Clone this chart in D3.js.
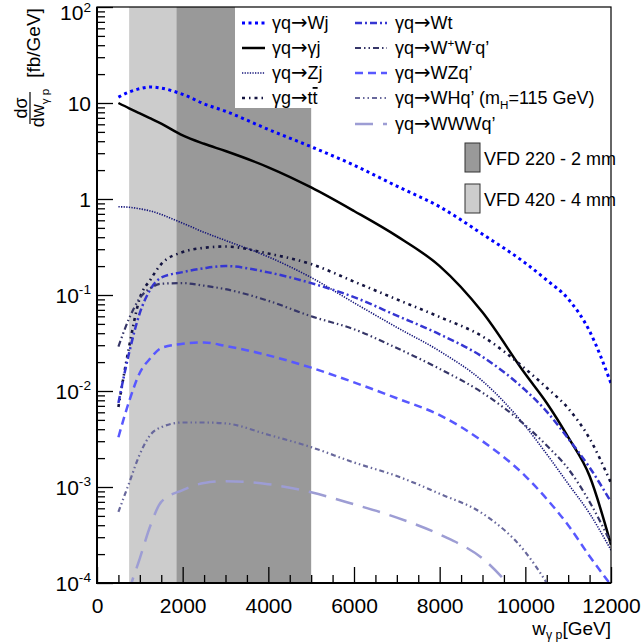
<!DOCTYPE html>
<html>
<head>
<meta charset="utf-8">
<script src="https://cdn.jsdelivr.net/npm/d3@7"></script>
<style>
  html, body { margin: 0; padding: 0; background: #fff; }
  svg { display: block; font-family: "Liberation Sans", Arial, sans-serif; }
</style>
</head>
<body>
<div id="root"></div>
<script>
// w_gamma p grid (GeV) shared by all curves
const wGrid = [500, 750, 1000, 1250, 1500, 2000, 2500, 3000, 4000, 5000, 6000, 7000, 8000, 9000, 10000, 10500, 11000, 11500, 12000]

// dsigma/dw [fb/GeV]
const sWj  = [11.5, 13.0, 14.1, 14.7, 14.3, 12.3, 9.8, 8.2, 5.3, 3.5, 2.25, 1.36, 0.83, 0.43, 0.215, 0.143, 0.091, 0.042, 0.012]
const sGj  = [10.0, 8.8, 7.8, 6.9, 6.1, 4.6, 3.76, 3.16, 2.14, 1.32, 0.75, 0.41, 0.2, 0.066, 0.015, 0.0075, 0.0033, 0.0013, 0.00025]
const sZj  = [0.83, 0.82, 0.79, 0.75, 0.69, 0.56, 0.45, 0.37, 0.25, 0.152, 0.083, 0.046, 0.026, 0.0127, 0.0043, 0.0022, 0.00108, 0.00053, 0.00022]
const sTt  = [0.0068, 0.029, 0.093, 0.145, 0.21, 0.28, 0.31, 0.32, 0.27, 0.21, 0.138, 0.09, 0.059, 0.037, 0.017, 0.0108, 0.0066, 0.0032, 0.0011]
const sWt  = [0.0075, 0.025, 0.065, 0.115, 0.152, 0.173, 0.19, 0.20, 0.172, 0.133, 0.095, 0.061, 0.039, 0.0227, 0.0102, 0.0061, 0.0032, 0.0016, 0.0007]
const sWW  = [0.029, 0.057, 0.093, 0.118, 0.131, 0.133, 0.125, 0.115, 0.087, 0.06, 0.044, 0.028, 0.017, 0.0096, 0.0044, 0.0027, 0.00155, 0.0007, 0.00026]
const sWZ  = [0.0033, 0.0078, 0.0155, 0.022, 0.028, 0.031, 0.032, 0.0295, 0.0235, 0.0175, 0.0123, 0.0084, 0.0056, 0.003, 0.0013, 0.00075, 0.0004, 0.00019, 0.000095]
const sWH  = [0.00055, 0.0011, 0.0022, 0.0035, 0.0042, 0.0047, 0.0047, 0.0046, 0.0035, 0.0026, 0.0018, 0.0013, 0.00085, 0.00053, 0.00021, 0.0001, 0.00004, null, null]
const sWWW = [0.00002, 0.00008, 0.00018, 0.0004, 0.0007, 0.00093, 0.0011, 0.00115, 0.00107, 0.00088, 0.00066, 0.00048, 0.00032, 0.00018, 0.00006, null, null, null, null]

// detector acceptance bands (GeV)
const bandNames = ['VFD 220 - 2 mm', 'VFD 420 - 4 mm']
const bandLo = [1850, 750]
const bandHi = [5000, 1850]

const xTicks = [0, 2000, 4000, 6000, 8000, 10000, 12000]
const yTicks = [1e-4, 1e-3, 1e-2, 1e-1, 1, 10, 100]
const yTickLabels = [['10', '-4'], ['10', '-3'], ['10', '-2'], ['10', '-1'], ['1', ''], ['10', ''], ['10', '2']]

const width = 644
const height = 643

const svg = d3.select('#root').append('svg')
  .attr('width', width)
  .attr('height', height)

const x = d3.scaleLinear().domain([0, 12000]).range([97, 611])
const y = d3.scaleLog().domain([1e-4, 1e2]).range([583, 7])

// helper for text with super / subscripts, overline and a ROOT-like arrow
function rich (sel, parts, size, subShift) {
  let shift = 0
  parts.forEach(p => {
    let target = 0
    if (p.m === 'sup') target = -0.4 * size
    if (p.m === 'sub') target = (subShift || 0.3) * size
    const pieces = p.t.split('→')
    pieces.forEach((piece, j) => {
      if (j > 0) {
        const a = sel.append('tspan').text('→')
          .attr('font-family', '"DejaVu Sans", sans-serif')
          .attr('font-size', size * 1.1)
        if (target - shift !== 0) { a.attr('dy', target - shift); shift = target }
      }
      if (piece === '') return
      const t = sel.append('tspan').text(piece)
      if (target - shift !== 0) { t.attr('dy', target - shift); shift = target }
      if (p.m === 'sup' || p.m === 'sub') t.attr('font-size', size * 0.65)
      if (p.m === 'over') t.style('text-decoration', 'overline')
    })
  })
}

// bands
const bandFill = ['#999999', '#cccccc']
svg.selectAll('rect.band')
  .data(bandNames)
  .enter()
  .append('rect')
  .attr('class', 'band')
  .attr('x', (d, i) => x(bandLo[i]))
  .attr('width', (d, i) => x(bandHi[i]) - x(bandLo[i]))
  .attr('y', y(1e2))
  .attr('height', y(1e-4) - y(1e2))
  .attr('fill', (d, i) => bandFill[i])

// ticks (ROOT style, inside the frame)
const minorX = d3.range(0, 12001, 500).filter(v => v % 2000 !== 0)
svg.append('g')
  .attr('transform', 'translate(0,583)')
  .call(d3.axisBottom(x).tickValues(minorX).tickSize(-8).tickFormat(''))
  .call(g => g.select('.domain').remove())
svg.append('g')
  .attr('transform', 'translate(0,583)')
  .call(d3.axisBottom(x).tickValues(xTicks).tickSize(-16).tickPadding(15).tickFormat(d3.format('d')))
  .call(g => g.select('.domain').remove())
  .call(g => g.selectAll('text').attr('font-size', 21).attr('fill', '#000').attr('font-family', '"Liberation Sans", Arial, sans-serif'))

const minorY = []
for (let e = -4; e < 2; e++) {
  for (let k = 2; k <= 9; k++) minorY.push(k * Math.pow(10, e))
}
svg.append('g')
  .attr('transform', 'translate(97,0)')
  .call(d3.axisLeft(y).tickValues(minorY).tickSize(-8).tickFormat(''))
  .call(g => g.select('.domain').remove())
svg.append('g')
  .attr('transform', 'translate(97,0)')
  .call(d3.axisLeft(y).tickValues(yTicks).tickSize(-16).tickFormat(''))
  .call(g => g.select('.domain').remove())
svg.selectAll('.tick line').attr('stroke', '#000').attr('stroke-width', 1.3)

yTicks.forEach((v, i) => {
  const lab = yTickLabels[i]
  const t = svg.append('text')
    .attr('x', 91)
    .attr('y', y(v) + (i === yTicks.length - 1 ? 13 : 7.5))
    .attr('text-anchor', 'end')
    .attr('font-size', 21)
  const parts = [{ t: lab[0] }]
  if (lab[1]) parts.push({ t: lab[1], m: 'sup' })
  rich(t, parts, 21)
})

// curves
const series = [
  { name: 'Wj', v: sWj, color: '#0000ff', w: 3, dash: '3,3.5' },
  { name: 'gj', v: sGj, color: '#000000', w: 2.5, dash: null },
  { name: 'Zj', v: sZj, color: '#14147a', w: 1.6, dash: '1.3,1.3' },
  { name: 'tt', v: sTt, color: '#141440', w: 2.6, dash: '3,4,1.5,4' },
  { name: 'Wt', v: sWt, color: '#3636d2', w: 2.5, dash: '7,3,2,3' },
  { name: 'WW', v: sWW, color: '#363668', w: 2.2, dash: '6,3,1.5,3,1.5,3' },
  { name: 'WZ', v: sWZ, color: '#5858ff', w: 2.5, dash: '8,5' },
  { name: 'WH', v: sWH, color: '#68689c', w: 2.2, dash: '5,3,1.5,3,1.5,3' },
  { name: 'WWW', v: sWWW, color: '#9d9dd4', w: 2.5, dash: '18,10' }
]

svg.append('clipPath').attr('id', 'plotclip')
  .append('rect').attr('x', 97).attr('y', 7).attr('width', 514).attr('height', 576)

const line = d3.line()
  .defined(d => d[1] != null)
  .x(d => x(d[0]))
  .y(d => y(d[1]))
  .curve(d3.curveMonotoneX)

const plot = svg.append('g').attr('clip-path', 'url(#plotclip)')
plot.selectAll('path')
  .data(series)
  .enter()
  .append('path')
  .attr('d', s => line(wGrid.map((w, i) => [w, s.v[i]])))
  .attr('fill', 'none')
  .attr('stroke', s => s.color)
  .attr('stroke-width', s => s.w)
  .attr('stroke-dasharray', s => s.dash)

// legend
svg.append('rect')
  .attr('x', 235).attr('y', 7).attr('width', 376).attr('height', 101)
  .attr('fill', '#fff')

const legLabels = [
  [{ t: 'γq→Wj' }],
  [{ t: 'γq→γj' }],
  [{ t: 'γq→Zj' }],
  [{ t: 'γg→t' }, { t: 't', m: 'over' }],
  [{ t: 'γq→Wt' }],
  [{ t: 'γq→W' }, { t: '+', m: 'sup' }, { t: 'W' }, { t: '-', m: 'sup' }, { t: 'q’' }],
  [{ t: 'γq→WZq’' }],
  [{ t: 'γq→WHq’ (m' }, { t: 'H', m: 'sub' }, { t: '=115 GeV)' }],
  [{ t: 'γq→WWWq’' }]
]
const legPos = [
  [242, 272, 23], [242, 272, 48], [242, 272, 73], [242, 272, 98],
  [355, 395, 23], [355, 395, 48], [355, 395, 73], [355, 395, 98], [355, 395, 124]
]

series.forEach((s, i) => {
  const p = legPos[i]
  const len = i < 4 ? 23 : 32
  svg.append('line')
    .attr('x1', p[0]).attr('x2', p[0] + len)
    .attr('y1', p[2]).attr('y2', p[2])
    .attr('stroke', s.color)
    .attr('stroke-width', s.w)
    .attr('stroke-dasharray', s.dash)
  const t = svg.append('text')
    .attr('x', p[1])
    .attr('y', p[2] + 6)
    .attr('font-size', 18)
  rich(t, legLabels[i], 18)
})

bandNames.forEach((b, i) => {
  const cy = i === 0 ? 158 : 199
  svg.append('rect')
    .attr('x', 465).attr('y', cy - 15).attr('width', 15).attr('height', 29)
    .attr('fill', bandFill[i])
    .attr('stroke', '#333').attr('stroke-width', 1)
  svg.append('text')
    .attr('x', 484).attr('y', cy + 6.5)
    .attr('font-size', 18)
    .text(b)
})

// frame
svg.append('rect')
  .attr('x', 97).attr('y', 7).attr('width', 514).attr('height', 576)
  .attr('fill', 'none').attr('stroke', '#000').attr('stroke-width', 1.2)
svg.append('path')
  .attr('d', 'M97,7V583H611')
  .attr('fill', 'none').attr('stroke', '#000').attr('stroke-width', 2)

// axis titles
const xt = svg.append('text')
  .attr('x', 611).attr('y', 635)
  .attr('text-anchor', 'end')
  .attr('font-size', 19)
rich(xt, [{ t: 'w' }, { t: 'γ p', m: 'sub' }, { t: '[GeV]' }], 19, 0.2)

svg.append('text')
  .attr('transform', 'translate(40,43) rotate(-90)')
  .attr('text-anchor', 'middle')
  .attr('font-size', 19)
  .text('[fb/GeV]')
svg.append('text')
  .attr('transform', 'translate(27,108) rotate(-90)')
  .attr('text-anchor', 'middle')
  .attr('font-size', 18)
  .text('dσ')
svg.append('line')
  .attr('x1', 30).attr('x2', 30).attr('y1', 92).attr('y2', 124)
  .attr('stroke', '#000').attr('stroke-width', 1.2)
const dw = svg.append('text')
  .attr('transform', 'translate(44,108) rotate(-90)')
  .attr('text-anchor', 'middle')
  .attr('font-size', 18)
rich(dw, [{ t: 'dw' }, { t: 'γ p', m: 'sub' }], 18)
</script>
</body>
</html>
